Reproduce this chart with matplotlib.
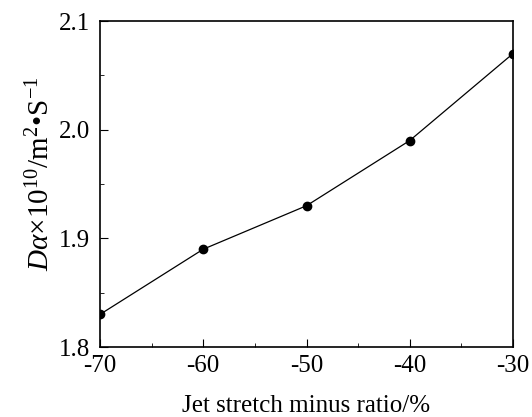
import matplotlib
matplotlib.use("Agg")
import matplotlib.pyplot as plt
from matplotlib.ticker import MultipleLocator

stretch = [-70, -60, -50, -40, -30]
da = [1.83, 1.89, 1.93, 1.99, 2.07]

plt.rcParams['font.family'] = ['Liberation Serif', 'DejaVu Serif']
plt.rcParams['mathtext.fontset'] = 'custom'
plt.rcParams['mathtext.rm'] = 'Liberation Serif'
plt.rcParams['mathtext.it'] = 'Liberation Serif:italic'
plt.rcParams['axes.unicode_minus'] = False

fig = plt.figure(figsize=(5.32, 4.17), dpi=100)
ax = fig.add_axes([100 / 532, 1 - 347 / 417, 413 / 532, 326 / 417])

ax.plot(stretch, da, color='black', linewidth=0.9, marker='o', markersize=6)

ax.set_xlim(-70, -30)
ax.set_ylim(1.8, 2.1)
ax.xaxis.set_major_locator(MultipleLocator(10))
ax.xaxis.set_minor_locator(MultipleLocator(5))
ax.yaxis.set_major_locator(MultipleLocator(0.1))
ax.yaxis.set_minor_locator(MultipleLocator(0.05))
ax.tick_params(which='both', direction='in', labelsize=18)
ax.tick_params(which='major', length=6)
ax.tick_params(which='minor', length=3)
ax.tick_params(axis='x', pad=6)
ax.tick_params(axis='y', pad=7)
for s in ax.spines.values():
    s.set_linewidth(1.2)

ax.set_xlabel('Jet stretch minus ratio/%', fontsize=18, labelpad=13)
ax.set_ylabel(r'$D\alpha$×10$^{10}$/m$^{2}$•S$^{-1}$', fontsize=21, labelpad=3)
ax.yaxis.label.set_y(0.53)

fig.savefig('out.png', dpi=100)
